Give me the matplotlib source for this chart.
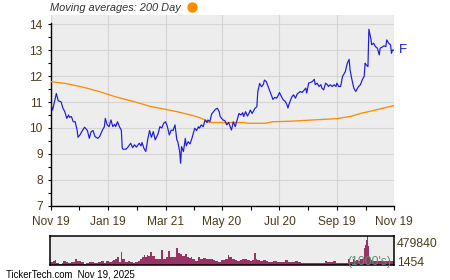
import matplotlib
matplotlib.use("Agg")
import matplotlib.pyplot as plt
from matplotlib.lines import Line2D
from matplotlib.ticker import MultipleLocator
import numpy as np
import pandas as pd

plt.rcParams['font.family'] = ['Liberation Sans', 'DejaVu Sans']

# closing prices of F
price_dates = [
    '2024-11-19', '2024-11-21', '2024-11-23', '2024-11-25', '2024-11-27', '2024-11-30',
    '2024-12-02', '2024-12-04', '2024-12-06', '2024-12-08', '2024-12-09', '2024-12-11',
    '2024-12-13', '2024-12-15', '2024-12-17', '2024-12-18', '2024-12-20', '2024-12-23',
    '2024-12-25', '2024-12-28', '2024-12-30', '2025-01-01', '2025-01-03', '2025-01-05',
    '2025-01-08', '2025-01-10', '2025-01-13', '2025-01-15', '2025-01-16', '2025-01-18',
    '2025-01-20', '2025-01-22', '2025-01-24', '2025-01-26', '2025-01-27', '2025-01-29',
    '2025-01-31', '2025-02-02', '2025-02-03', '2025-02-04', '2025-02-07', '2025-02-09',
    '2025-02-12', '2025-02-14', '2025-02-16', '2025-02-18', '2025-02-21', '2025-02-23',
    '2025-02-24', '2025-02-26', '2025-02-28', '2025-03-02', '2025-03-04', '2025-03-06',
    '2025-03-08', '2025-03-10', '2025-03-13', '2025-03-15', '2025-03-17', '2025-03-19',
    '2025-03-21', '2025-03-23', '2025-03-25', '2025-03-27', '2025-03-29', '2025-03-31',
    '2025-04-02', '2025-04-03', '2025-04-05', '2025-04-06', '2025-04-07', '2025-04-09',
    '2025-04-11', '2025-04-12', '2025-04-14', '2025-04-16', '2025-04-18', '2025-04-19',
    '2025-04-21', '2025-04-23', '2025-04-25', '2025-04-26', '2025-04-28', '2025-04-30',
    '2025-05-02', '2025-05-04', '2025-05-05', '2025-05-07', '2025-05-09', '2025-05-11',
    '2025-05-13', '2025-05-15', '2025-05-17', '2025-05-18', '2025-05-21', '2025-05-23',
    '2025-05-25', '2025-05-27', '2025-05-28', '2025-05-30', '2025-06-01', '2025-06-03',
    '2025-06-04', '2025-06-07', '2025-06-09', '2025-06-11', '2025-06-12', '2025-06-14',
    '2025-06-16', '2025-06-18', '2025-06-19', '2025-06-21', '2025-06-24', '2025-06-26',
    '2025-06-27', '2025-06-29', '2025-07-01', '2025-07-03', '2025-07-04', '2025-07-06',
    '2025-07-08', '2025-07-10', '2025-07-12', '2025-07-13', '2025-07-15', '2025-07-17',
    '2025-07-19', '2025-07-20', '2025-07-22', '2025-07-24', '2025-07-26', '2025-07-28',
    '2025-07-29', '2025-07-30', '2025-08-01', '2025-08-02', '2025-08-04', '2025-08-06',
    '2025-08-08', '2025-08-10', '2025-08-11', '2025-08-13', '2025-08-15', '2025-08-17',
    '2025-08-18', '2025-08-20', '2025-08-22', '2025-08-24', '2025-08-26', '2025-08-27',
    '2025-08-29', '2025-08-31', '2025-09-02', '2025-09-03', '2025-09-05', '2025-09-07',
    '2025-09-09', '2025-09-10', '2025-09-12', '2025-09-14', '2025-09-16', '2025-09-18',
    '2025-09-19', '2025-09-21', '2025-09-23', '2025-09-25', '2025-09-26', '2025-09-28',
    '2025-09-30', '2025-10-02', '2025-10-03', '2025-10-05', '2025-10-07', '2025-10-09',
    '2025-10-10', '2025-10-12', '2025-10-14', '2025-10-16', '2025-10-18', '2025-10-19',
    '2025-10-20', '2025-10-22', '2025-10-23', '2025-10-25', '2025-10-26', '2025-10-28',
    '2025-10-30', '2025-11-01', '2025-11-03', '2025-11-04', '2025-11-06', '2025-11-08',
    '2025-11-10', '2025-11-11', '2025-11-13', '2025-11-15', '2025-11-16', '2025-11-17',
    '2025-11-19',
]
price_vals = [
    10.97, 10.69, 11.01, 11.33, 11.05, 11.01,
    10.76, 10.63, 10.37, 10.50, 10.41, 10.44,
    10.24, 10.24, 9.92, 9.64, 9.73, 9.92,
    10.03, 9.90, 9.60, 9.86, 9.90, 9.67,
    9.60, 9.67, 9.92, 10.05, 10.37, 10.12,
    10.05, 10.31, 10.05, 10.14, 10.05, 10.24,
    10.05, 9.92, 9.22, 9.18, 9.18, 9.26,
    9.41, 9.24, 9.35, 9.26, 9.41, 9.31,
    9.44, 9.22, 9.09, 9.54, 9.90, 9.64,
    9.86, 9.54, 9.77, 10.05, 10.00, 10.18,
    10.24, 10.05, 9.73, 9.92, 9.90, 10.12,
    9.54, 9.47, 9.09, 8.64, 9.28, 9.09,
    9.60, 9.31, 9.47, 9.38, 9.60, 9.73,
    9.99, 9.90, 10.05, 9.99, 10.12, 10.05,
    10.31, 10.21, 10.31, 10.24, 10.54, 10.63,
    10.72, 10.76, 10.63, 10.44, 10.31, 10.28,
    10.12, 10.21, 10.12, 9.92, 10.24, 10.05,
    10.18, 10.56, 10.50, 10.59, 10.44, 10.63,
    10.46, 10.59, 10.69, 10.56, 10.76, 10.82,
    11.40, 11.72, 11.59, 11.69, 11.85, 11.79,
    11.59, 11.40, 11.21, 11.10, 11.18, 11.15,
    11.28, 11.37, 11.22, 11.09, 11.03, 10.90,
    10.77, 10.90, 11.09, 11.19, 11.28, 11.15,
    11.32, 11.37, 11.41, 11.37, 11.45, 11.54,
    11.35, 11.73, 11.76, 11.79, 11.88, 11.67,
    11.73, 11.60, 11.67, 11.54, 11.47, 11.73,
    11.67, 11.60, 11.67, 11.60, 11.67, 11.60,
    11.73, 11.60, 11.60, 11.99, 12.05, 12.18,
    12.49, 12.65, 12.24, 11.86, 11.54, 11.41,
    11.47, 11.60, 11.67, 11.86, 11.99, 12.50,
    12.44, 12.37, 13.81, 13.46, 13.21, 13.27,
    13.14, 13.08, 12.82, 13.08, 13.12, 13.17,
    13.14, 13.40, 13.27, 13.21, 12.88, 13.01,
    12.99,
]

# 200 day moving average
ma_dates = ['2024-11-19', '2024-12-06', '2024-12-24', '2025-01-10', '2025-01-28',
            '2025-02-15', '2025-03-04', '2025-03-15', '2025-04-02', '2025-04-19',
            '2025-04-26', '2025-05-02', '2025-05-05', '2025-05-10', '2025-06-12',
            '2025-06-17', '2025-07-05', '2025-07-13', '2025-07-31', '2025-08-20',
            '2025-09-19', '2025-10-04', '2025-10-14', '2025-10-31', '2025-11-19']
ma_vals = [11.79, 11.71, 11.57, 11.40, 11.19,
           11.02, 10.84, 10.76, 10.63, 10.48,
           10.40, 10.31, 10.23, 10.21, 10.21,
           10.18, 10.18, 10.24, 10.26, 10.30,
           10.36, 10.45, 10.56, 10.70, 10.87]

# volume (1000's)
vol_dates = [
    '2024-11-19', '2024-11-22', '2024-11-24', '2024-11-25', '2024-11-28', '2024-12-01',
    '2024-12-03', '2024-12-06', '2024-12-08', '2024-12-11', '2024-12-15', '2024-12-17',
    '2024-12-19', '2024-12-22', '2024-12-25', '2024-12-27', '2024-12-30', '2025-01-01',
    '2025-01-04', '2025-01-07', '2025-01-09', '2025-01-12', '2025-01-15', '2025-01-17',
    '2025-01-20', '2025-01-23', '2025-01-25', '2025-01-27', '2025-01-29', '2025-01-31',
    '2025-02-02', '2025-02-03', '2025-02-06', '2025-02-09', '2025-02-12', '2025-02-15',
    '2025-02-17', '2025-02-20', '2025-02-22', '2025-02-24', '2025-02-26', '2025-02-28',
    '2025-03-02', '2025-03-03', '2025-03-05', '2025-03-07', '2025-03-10', '2025-03-13',
    '2025-03-15', '2025-03-17', '2025-03-19', '2025-03-22', '2025-03-24', '2025-03-26',
    '2025-03-28', '2025-03-30', '2025-04-01', '2025-04-02', '2025-04-04', '2025-04-06',
    '2025-04-08', '2025-04-11', '2025-04-13', '2025-04-15', '2025-04-17', '2025-04-19',
    '2025-04-22', '2025-04-25', '2025-04-27', '2025-04-30', '2025-05-03', '2025-05-05',
    '2025-05-08', '2025-05-11', '2025-05-13', '2025-05-16', '2025-05-19', '2025-05-21',
    '2025-05-24', '2025-05-27', '2025-05-28', '2025-05-31', '2025-06-03', '2025-06-05',
    '2025-06-08', '2025-06-11', '2025-06-14', '2025-06-16', '2025-06-19', '2025-06-21',
    '2025-06-23', '2025-06-25', '2025-06-27', '2025-06-30', '2025-07-03', '2025-07-06',
    '2025-07-08', '2025-07-12', '2025-07-14', '2025-07-18', '2025-07-20', '2025-07-23',
    '2025-07-26', '2025-07-29', '2025-08-01', '2025-08-04', '2025-08-06', '2025-08-09',
    '2025-08-12', '2025-08-15', '2025-08-18', '2025-08-21', '2025-08-23', '2025-08-26',
    '2025-08-29', '2025-09-01', '2025-09-04', '2025-09-07', '2025-09-09', '2025-09-12',
    '2025-09-15', '2025-09-18', '2025-09-21', '2025-09-23', '2025-09-26', '2025-09-29',
    '2025-10-01', '2025-10-03', '2025-10-06', '2025-10-08', '2025-10-10', '2025-10-12',
    '2025-10-14', '2025-10-16', '2025-10-18', '2025-10-19', '2025-10-20', '2025-10-21',
    '2025-10-22', '2025-10-23', '2025-10-25', '2025-10-27', '2025-10-30', '2025-11-03',
    '2025-11-06', '2025-11-10', '2025-11-13', '2025-11-17', '2025-11-19',
]
vol_vals = [
    54000, 64000, 78000, 35000, 24000, 40000,
    64000, 52000, 40000, 46000, 97000, 73000,
    73000, 52000, 24000, 35000, 52000, 52000,
    40000, 40000, 46000, 68000, 40000, 58000,
    52000, 68000, 80000, 102000, 126000, 52000,
    217000, 107000, 52000, 58000, 46000, 40000,
    46000, 68000, 92000, 135000, 159000, 135000,
    164000, 150000, 217000, 150000, 102000, 97000,
    107000, 250000, 102000, 126000, 231000, 135000,
    126000, 126000, 217000, 279000, 202000, 183000,
    150000, 183000, 126000, 112000, 135000, 92000,
    68000, 135000, 107000, 117000, 107000, 92000,
    107000, 78000, 68000, 52000, 78000, 78000,
    92000, 164000, 135000, 92000, 78000, 68000,
    78000, 92000, 107000, 78000, 68000, 78000,
    193000, 92000, 78000, 68000, 78000, 58000,
    52000, 52000, 58000, 52000, 52000, 46000,
    78000, 52000, 52000, 46000, 68000, 46000,
    40000, 40000, 40000, 40000, 35000, 40000,
    40000, 35000, 40000, 58000, 52000, 46000,
    68000, 40000, 35000, 40000, 40000, 40000,
    92000, 46000, 92000, 68000, 78000, 68000,
    92000, 102000, 274000, 332000, 413000, 479840,
    312000, 135000, 78000, 68000, 58000, 64000,
    58000, 64000, 58000, 58000, 58000,
]
vol_axis = [1454, 479840]

tick_dates = ['2024-11-19', '2025-01-19', '2025-03-21', '2025-05-20',
              '2025-07-20', '2025-09-19', '2025-11-19']
tick_labels = ['Nov 19', 'Jan 19', 'Mar 21', 'May 20', 'Jul 20', 'Sep 19', 'Nov 19']
ticker = 'F'
title = 'Moving averages: 200 Day'
footer = 'TickerTech.com  Nov 19, 2025'

lab_col = '#4b3b1b'
bg = '#ededed'

px = pd.to_datetime(price_dates)
mx = pd.to_datetime(ma_dates)
vx = pd.to_datetime(vol_dates)
tx = pd.to_datetime(tick_dates)

fig = plt.figure(figsize=(4.5, 2.8), dpi=100)

# price panel
ax = fig.add_axes([50.7 / 450, 1 - 205.7 / 280, 343.6 / 450, 190.7 / 280])
ax.set_facecolor(bg)
ax.plot(mx, ma_vals, color='#ff8c00', lw=0.95, zorder=3)
ax.plot(px, price_vals, color='#1a1ae0', lw=0.85, zorder=4)
ax.set_xlim(tx[0], tx[-1])
ax.set_ylim(7, 14.36)
ax.yaxis.set_major_locator(MultipleLocator(1))
ax.yaxis.set_minor_locator(MultipleLocator(0.5))
ax.set_xticks(tx)
ax.set_xticklabels(tick_labels)
mids = tx[:-1] + (tx[1:] - tx[:-1]) / 2
ax.set_xticks(mids, minor=True)
ax.grid(True, which='major', color='#d5d5d5', lw=0.8)
ax.set_axisbelow(True)
for s in ['top', 'right']:
    ax.spines[s].set_visible(False)
ax.spines['left'].set_bounds(7, 14.06)
ax.spines['left'].set_linewidth(1.0)
ax.spines['bottom'].set_linewidth(1.0)
ax.tick_params(axis='x', which='both', length=3, width=0.8, direction='out',
               labelsize=8.6, labelcolor=lab_col, pad=4.5)
ax.tick_params(axis='y', which='both', length=2.3, width=0.8, direction='out',
               labelsize=8.6, labelcolor=lab_col, pad=3.5)
ax.annotate(ticker, xy=(px[-1], price_vals[-1]), xytext=(3, 0.5),
            textcoords='offset points', va='center', ha='left',
            color='#1a1ae0', fontsize=9.5, annotation_clip=False)

# volume panel
axv = fig.add_axes([50.3 / 450, 1 - 265 / 280, 343.7 / 450, 29 / 280])
axv.set_facecolor(bg)
axv.fill_between(vx, vol_vals, step='post', color='#993366', lw=0)
axv.set_xlim(tx[0], tx[-1])
axv.set_ylim(0, vol_axis[1])
axv.set_xticks([])
axv.set_yticks([])
for s in axv.spines.values():
    s.set_linewidth(1.1)
axv.text(1.008, 0.74, str(vol_axis[1]), transform=axv.transAxes,
         ha='left', va='center', fontsize=8.8, color=lab_col)
axv.text(1.008, 0.08, str(vol_axis[0]), transform=axv.transAxes,
         ha='left', va='center', fontsize=8.8, color=lab_col)
axv.text(0.993, 0.12, "(1000's)", transform=axv.transAxes,
         ha='right', va='center', fontsize=8.7, color='#5b8c73')

# header / footer
fig.text(50 / 450, 1 - 8.3 / 280, title, style='italic', fontsize=7.9,
         color='#333333', va='center', ha='left')
fig.add_artist(Line2D([191.7 / 450], [1 - 7 / 280], marker='o', ms=6.5,
                      color='#ff8c00', transform=fig.transFigure))
fig.text(5.7 / 450, 1 - 274.3 / 280, footer, fontsize=6.9,
         color='black', va='center', ha='left')

fig.savefig('out.png', dpi=100)
